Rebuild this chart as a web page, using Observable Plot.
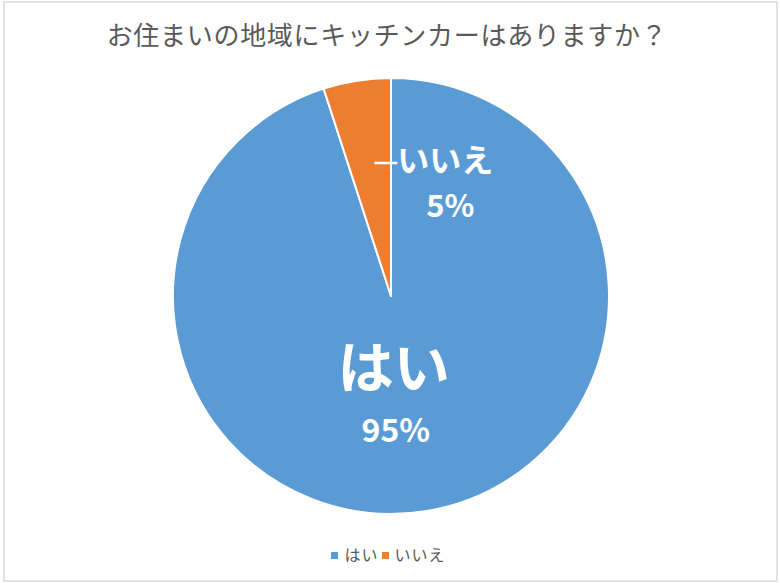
<!DOCTYPE html>
<html><head><meta charset="utf-8">
<script src="https://cdn.jsdelivr.net/npm/d3@7"></script>
<script src="https://cdn.jsdelivr.net/npm/@observablehq/plot@0.6"></script>
<style>
body{margin:0;background:#fff;}
#wrap{position:relative;width:780px;height:583px;overflow:hidden;font-family:"Noto Sans CJK JP",sans-serif;}
#frame{position:absolute;left:3px;top:1px;width:771px;height:577px;border:2px solid #e2e2e2;}
#title{position:absolute;top:16px;left:-3px;width:780px;text-align:center;font-size:26px;line-height:36px;color:#595959;letter-spacing:0.7px;}
#chart{position:absolute;top:56px;left:0;}
#legend{position:absolute;top:542px;left:0;width:780px;text-align:center;font-size:16px;line-height:24px;color:#595959;letter-spacing:1px;}
.sw{display:inline-block;width:7px;height:7px;margin:0 6px 2px 0;vertical-align:middle;}
.item{margin:0 3px 0 0;}
</style></head>
<body>
<div id="wrap">
  <div id="frame"></div>
  <div id="title"></div>
  <div id="chart"></div>
  <div id="legend"></div>
</div>
<script>
const titleText = "お住まいの地域にキッチンカーはありますか？";
const categories = ["はい", "いいえ"];
const values = [95, 5];
const colors = ["#5B9BD5", "#ED7D31"];

document.getElementById("title").textContent = titleText;

const total = d3.sum(values);
const arcs = d3.pie().sort(null).value(d => d)(values);
const slices = arcs.map((a, i) => ({
  category: categories[i],
  value: values[i],
  pct: Math.round(values[i] / total * 100) + "%",
  start: a.startAngle,
  end: a.endAngle,
  mid: (a.startAngle + a.endAngle) / 2,
  frac: values[i] / total
}));

const color = Plot.scale({color: {domain: categories, range: colors}});

const X_RANGE = [173, 609];
const Y_RANGE = [458, 22];
const R_PX = (X_RANGE[1] - X_RANGE[0]) / 2;

const big = slices.filter(d => d.frac >= 0.1).map(d => ({...d, x: 0.48 * Math.sin(d.mid), y: 0.48 * Math.cos(d.mid)}));
const small = slices.filter(d => d.frac < 0.1).map(d => ({...d, x: 0.62 * Math.sin(d.mid), y: 0.62 * Math.cos(d.mid)}));

function pieMark(index, scales) {
  const cx = scales.x(0), cy = scales.y(0);
  const r = scales.x(1) - scales.x(0);
  const g = d3.create("svg:g").attr("transform", `translate(${cx},${cy})`);
  const arcGen = d3.arc().innerRadius(0).outerRadius(r);
  g.selectAll("path").data(slices).join("path")
    .attr("d", d => arcGen({startAngle: d.start, endAngle: d.end}))
    .attr("fill", d => color.apply(d.category))
    .attr("stroke", "white")
    .attr("stroke-width", 2)
    .attr("stroke-linejoin", "round");
  return g.node();
}

const font = "Noto Sans CJK JP";
const plot = Plot.plot({
  width: 780,
  height: 470,
  margin: 0,
  style: {background: "transparent", fontFamily: font},
  x: {domain: [-1, 1], range: X_RANGE, axis: null},
  y: {domain: [-1, 1], range: Y_RANGE, axis: null},
  marks: [
    pieMark,
    Plot.text(big, {x: "x", y: "y", text: "category", fill: "white", fontSize: 56, fontWeight: "bold", fontFamily: font, dx: -14, dy: -30}),
    Plot.text(big, {x: "x", y: "y", text: "pct", fill: "white", fontSize: 32, fontWeight: "bold", fontFamily: font, dx: -12, dy: 32}),
    Plot.link(small, {x1: d => d.x + 4 / R_PX, y1: "y", x2: d => d.x + 27 / R_PX, y2: "y", stroke: "white", strokeWidth: 2.5}),
    Plot.text(small, {x: "x", y: "y", text: "category", fill: "white", fontSize: 32, fontWeight: "bold", fontFamily: font, textAnchor: "start", dx: 27, dy: -1}),
    Plot.text(small, {x: "x", y: "y", text: "pct", fill: "white", fontSize: 31, fontWeight: "bold", fontFamily: font, dx: 80, dy: 44})
  ]
});
document.getElementById("chart").appendChild(plot);

const legend = document.getElementById("legend");
categories.forEach((c, i) => {
  const item = document.createElement("span");
  item.className = "item";
  const sw = document.createElement("span");
  sw.className = "sw";
  sw.style.background = color.apply(c);
  item.appendChild(sw);
  item.appendChild(document.createTextNode(c));
  legend.appendChild(item);
});
</script>
</body></html>
